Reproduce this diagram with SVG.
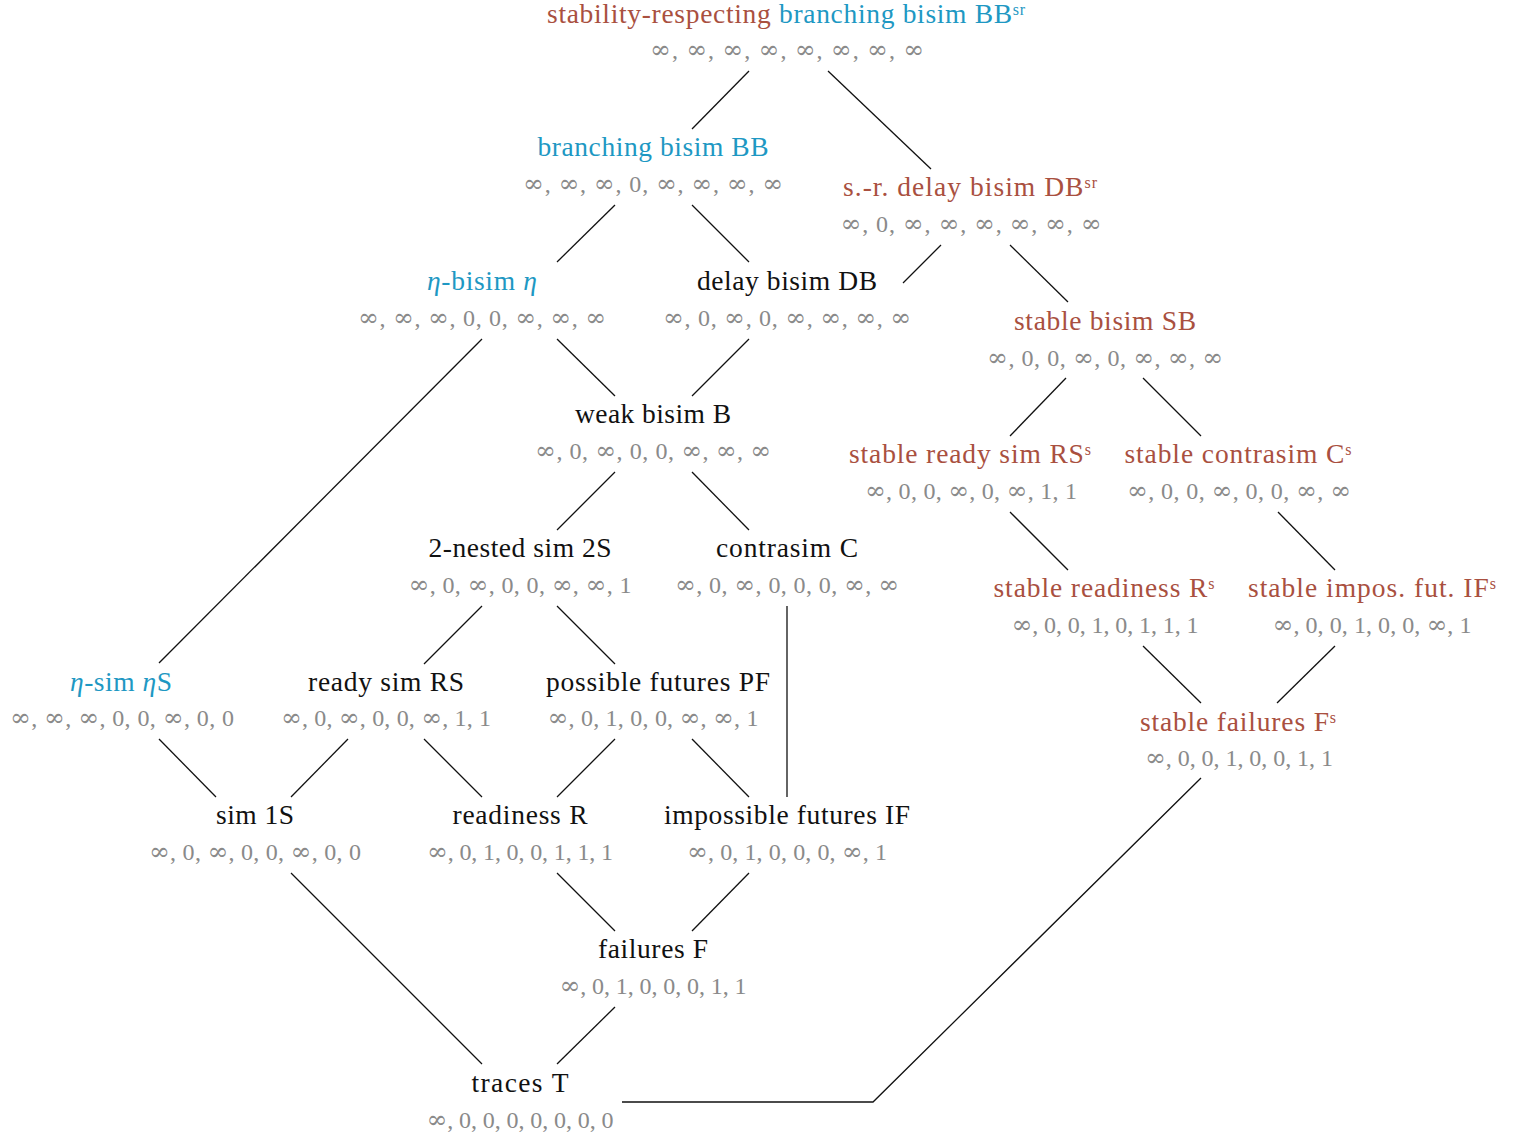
<svg xmlns="http://www.w3.org/2000/svg" width="1532" height="1138" viewBox="0 0 1532 1138">
<style>
text{font-family:"Liberation Serif","DejaVu Serif",serif;text-anchor:middle}
.t{font-size:27.5px;fill:#111}
.r{fill:#a9503f}
.b{fill:#1e98c3}
.v{font-size:24px;fill:#8a8a8a}
.i{font-family:"DejaVu Serif",serif;font-size:25px}
.sup{font-size:16px}
.it{font-style:italic}
#edges line,#edges polyline{stroke:#111;stroke-width:1.3;fill:none}
</style>
<rect width="1532" height="1138" fill="#fff"/>
<g id="edges">
<line x1="749" y1="71" x2="692" y2="129"/>
<line x1="828" y1="71" x2="931" y2="169"/>
<line x1="615" y1="205" x2="557" y2="262"/>
<line x1="692" y1="205" x2="749" y2="262"/>
<line x1="941" y1="245" x2="903" y2="283"/>
<line x1="1010" y1="245" x2="1068" y2="302"/>
<line x1="557" y1="339" x2="615" y2="396"/>
<line x1="482" y1="339" x2="159" y2="663"/>
<line x1="749" y1="339" x2="692" y2="396"/>
<line x1="1066" y1="378" x2="1010" y2="436"/>
<line x1="1143" y1="378" x2="1201" y2="436"/>
<line x1="615" y1="472" x2="557" y2="530"/>
<line x1="692" y1="472" x2="749" y2="530"/>
<line x1="1010" y1="512" x2="1068" y2="570"/>
<line x1="1278" y1="512" x2="1335" y2="570"/>
<line x1="482" y1="606" x2="424" y2="664"/>
<line x1="557" y1="606" x2="615" y2="664"/>
<line x1="787" y1="606" x2="787" y2="797"/>
<line x1="1143" y1="646" x2="1201" y2="703"/>
<line x1="1335" y1="646" x2="1277" y2="703"/>
<line x1="159" y1="739" x2="216" y2="797"/>
<line x1="348" y1="739" x2="291" y2="797"/>
<line x1="424" y1="739" x2="482" y2="797"/>
<line x1="615" y1="739" x2="557" y2="797"/>
<line x1="692" y1="739" x2="749" y2="797"/>
<line x1="291" y1="873" x2="482" y2="1064"/>
<line x1="557" y1="873" x2="615" y2="931"/>
<line x1="749" y1="873" x2="692" y2="931"/>
<line x1="615" y1="1007" x2="557" y2="1064"/>
<polyline points="1201,778 873,1102 622,1102"/>
</g>
<g id="BBsr"><text class="t" x="786" y="23" textLength="478" lengthAdjust="spacing"><tspan class="r">stability-respecting </tspan><tspan class="b">branching bisim BB<tspan class="sup" dy="-8">sr</tspan></tspan></text><text class="v" x="787" y="58" textLength="274" lengthAdjust="spacing"><tspan class="i">∞</tspan>, <tspan class="i">∞</tspan>, <tspan class="i">∞</tspan>, <tspan class="i">∞</tspan>, <tspan class="i">∞</tspan>, <tspan class="i">∞</tspan>, <tspan class="i">∞</tspan>, <tspan class="i">∞</tspan></text></g>
<g id="BB"><text class="t b" x="653" y="156" textLength="231" lengthAdjust="spacing">branching bisim BB</text><text class="v" x="653" y="192" textLength="260" lengthAdjust="spacing"><tspan class="i">∞</tspan>, <tspan class="i">∞</tspan>, <tspan class="i">∞</tspan>, 0, <tspan class="i">∞</tspan>, <tspan class="i">∞</tspan>, <tspan class="i">∞</tspan>, <tspan class="i">∞</tspan></text></g>
<g id="DBsr"><text class="t r" x="970" y="196" textLength="254" lengthAdjust="spacing">s.-r. delay bisim DB<tspan class="sup" dy="-8">sr</tspan></text><text class="v" x="971" y="232" textLength="261" lengthAdjust="spacing"><tspan class="i">∞</tspan>, 0, <tspan class="i">∞</tspan>, <tspan class="i">∞</tspan>, <tspan class="i">∞</tspan>, <tspan class="i">∞</tspan>, <tspan class="i">∞</tspan>, <tspan class="i">∞</tspan></text></g>
<g id="eta"><text class="t b" x="482" y="290" textLength="110" lengthAdjust="spacing"><tspan class="it">η</tspan>-bisim <tspan class="it">η</tspan></text><text class="v" x="482" y="326" textLength="248" lengthAdjust="spacing"><tspan class="i">∞</tspan>, <tspan class="i">∞</tspan>, <tspan class="i">∞</tspan>, 0, 0, <tspan class="i">∞</tspan>, <tspan class="i">∞</tspan>, <tspan class="i">∞</tspan></text></g>
<g id="DB"><text class="t" x="787" y="290" textLength="180" lengthAdjust="spacing">delay bisim DB</text><text class="v" x="787" y="326" textLength="248" lengthAdjust="spacing"><tspan class="i">∞</tspan>, 0, <tspan class="i">∞</tspan>, 0, <tspan class="i">∞</tspan>, <tspan class="i">∞</tspan>, <tspan class="i">∞</tspan>, <tspan class="i">∞</tspan></text></g>
<g id="SB"><text class="t r" x="1105" y="330" textLength="182" lengthAdjust="spacing">stable bisim SB</text><text class="v" x="1105" y="366" textLength="236" lengthAdjust="spacing"><tspan class="i">∞</tspan>, 0, 0, <tspan class="i">∞</tspan>, 0, <tspan class="i">∞</tspan>, <tspan class="i">∞</tspan>, <tspan class="i">∞</tspan></text></g>
<g id="B"><text class="t" x="653" y="423" textLength="156" lengthAdjust="spacing">weak bisim B</text><text class="v" x="653" y="459" textLength="236" lengthAdjust="spacing"><tspan class="i">∞</tspan>, 0, <tspan class="i">∞</tspan>, 0, 0, <tspan class="i">∞</tspan>, <tspan class="i">∞</tspan>, <tspan class="i">∞</tspan></text></g>
<g id="RSs"><text class="t r" x="970" y="463" textLength="242" lengthAdjust="spacing">stable ready sim RS<tspan class="sup" dy="-8">s</tspan></text><text class="v" x="971" y="499" textLength="212" lengthAdjust="spacing"><tspan class="i">∞</tspan>, 0, 0, <tspan class="i">∞</tspan>, 0, <tspan class="i">∞</tspan>, 1, 1</text></g>
<g id="Cs"><text class="t r" x="1238" y="463" textLength="227" lengthAdjust="spacing">stable contrasim C<tspan class="sup" dy="-8">s</tspan></text><text class="v" x="1239" y="499" textLength="224" lengthAdjust="spacing"><tspan class="i">∞</tspan>, 0, 0, <tspan class="i">∞</tspan>, 0, 0, <tspan class="i">∞</tspan>, <tspan class="i">∞</tspan></text></g>
<g id="S2"><text class="t" x="520" y="557" textLength="183" lengthAdjust="spacing">2-nested sim 2S</text><text class="v" x="520" y="593" textLength="223" lengthAdjust="spacing"><tspan class="i">∞</tspan>, 0, <tspan class="i">∞</tspan>, 0, 0, <tspan class="i">∞</tspan>, <tspan class="i">∞</tspan>, 1</text></g>
<g id="C"><text class="t" x="787" y="557" textLength="142" lengthAdjust="spacing">contrasim C</text><text class="v" x="787" y="593" textLength="224" lengthAdjust="spacing"><tspan class="i">∞</tspan>, 0, <tspan class="i">∞</tspan>, 0, 0, 0, <tspan class="i">∞</tspan>, <tspan class="i">∞</tspan></text></g>
<g id="Rs"><text class="t r" x="1104" y="597" textLength="221" lengthAdjust="spacing">stable readiness R<tspan class="sup" dy="-8">s</tspan></text><text class="v" x="1105" y="633" textLength="187" lengthAdjust="spacing"><tspan class="i">∞</tspan>, 0, 0, 1, 0, 1, 1, 1</text></g>
<g id="IFs"><text class="t r" x="1372" y="597" textLength="248" lengthAdjust="spacing">stable impos. fut. IF<tspan class="sup" dy="-8">s</tspan></text><text class="v" x="1372" y="633" textLength="199" lengthAdjust="spacing"><tspan class="i">∞</tspan>, 0, 0, 1, 0, 0, <tspan class="i">∞</tspan>, 1</text></g>
<g id="etaS"><text class="t b" x="121" y="691" textLength="102" lengthAdjust="spacing"><tspan class="it">η</tspan>-sim <tspan class="it">η</tspan>S</text><text class="v" x="122" y="726" textLength="224" lengthAdjust="spacing"><tspan class="i">∞</tspan>, <tspan class="i">∞</tspan>, <tspan class="i">∞</tspan>, 0, 0, <tspan class="i">∞</tspan>, 0, 0</text></g>
<g id="RS"><text class="t" x="386" y="691" textLength="156" lengthAdjust="spacing">ready sim RS</text><text class="v" x="386" y="726" textLength="210" lengthAdjust="spacing"><tspan class="i">∞</tspan>, 0, <tspan class="i">∞</tspan>, 0, 0, <tspan class="i">∞</tspan>, 1, 1</text></g>
<g id="PF"><text class="t" x="658" y="691" textLength="224" lengthAdjust="spacing">possible futures PF</text><text class="v" x="653" y="726" textLength="211" lengthAdjust="spacing"><tspan class="i">∞</tspan>, 0, 1, 0, 0, <tspan class="i">∞</tspan>, <tspan class="i">∞</tspan>, 1</text></g>
<g id="Fs"><text class="t r" x="1238" y="731" textLength="196" lengthAdjust="spacing">stable failures F<tspan class="sup" dy="-8">s</tspan></text><text class="v" x="1239" y="766" textLength="188" lengthAdjust="spacing"><tspan class="i">∞</tspan>, 0, 0, 1, 0, 0, 1, 1</text></g>
<g id="S1"><text class="t" x="255" y="824" textLength="78" lengthAdjust="spacing">sim 1S</text><text class="v" x="255" y="860" textLength="212" lengthAdjust="spacing"><tspan class="i">∞</tspan>, 0, <tspan class="i">∞</tspan>, 0, 0, <tspan class="i">∞</tspan>, 0, 0</text></g>
<g id="R"><text class="t" x="520" y="824" textLength="135" lengthAdjust="spacing">readiness R</text><text class="v" x="520" y="860" textLength="186" lengthAdjust="spacing"><tspan class="i">∞</tspan>, 0, 1, 0, 0, 1, 1, 1</text></g>
<g id="IF"><text class="t" x="787" y="824" textLength="246" lengthAdjust="spacing">impossible futures IF</text><text class="v" x="787" y="860" textLength="200" lengthAdjust="spacing"><tspan class="i">∞</tspan>, 0, 1, 0, 0, 0, <tspan class="i">∞</tspan>, 1</text></g>
<g id="F"><text class="t" x="653" y="958" textLength="110" lengthAdjust="spacing">failures F</text><text class="v" x="653" y="994" textLength="187" lengthAdjust="spacing"><tspan class="i">∞</tspan>, 0, 1, 0, 0, 0, 1, 1</text></g>
<g id="T"><text class="t" x="520" y="1092" textLength="97" lengthAdjust="spacing">traces T</text><text class="v" x="520" y="1128" textLength="187" lengthAdjust="spacing"><tspan class="i">∞</tspan>, 0, 0, 0, 0, 0, 0, 0</text></g>
</svg>
